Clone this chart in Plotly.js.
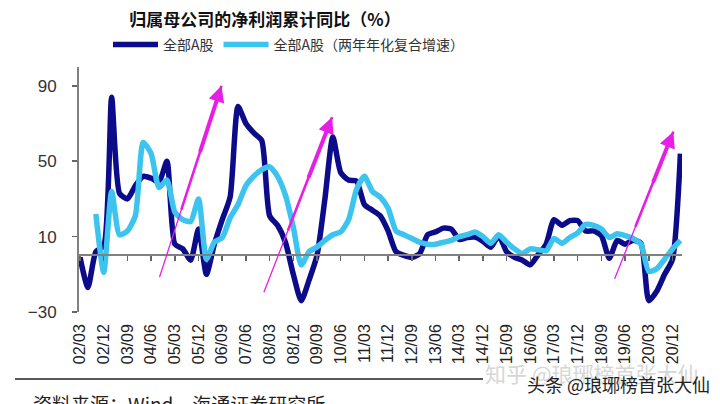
<!DOCTYPE html>
<html>
<head>
<meta charset="utf-8">
<script src="https://cdn.plot.ly/plotly-3.0.1.min.js"></script>
<style>
  html, body { margin: 0; padding: 0; background: #fff; }
  #myPlot { width: 720px; height: 404px; }
</style>
</head>
<body>
<div id="myPlot"></div>
<script>
// quarters, 02/03 .. 21/03
const quarters = [
  "02/03","02/06","02/09","02/12","03/03","03/06","03/09","03/12",
  "04/03","04/06","04/09","04/12","05/03","05/06","05/09","05/12",
  "06/03","06/06","06/09","06/12","07/03","07/06","07/09","07/12",
  "08/03","08/06","08/09","08/12","09/03","09/06","09/09","09/12",
  "10/03","10/06","10/09","10/12","11/03","11/06","11/09","11/12",
  "12/03","12/06","12/09","12/12","13/03","13/06","13/09","13/12",
  "14/03","14/06","14/09","14/12","15/03","15/06","15/09","15/12",
  "16/03","16/06","16/09","16/12","17/03","17/06","17/09","17/12",
  "18/03","18/06","18/09","18/12","19/03","19/06","19/09","19/12",
  "20/03","20/06","20/09","20/12","21/03"
];

// 全部A股 净利润累计同比 (%)
const allA = [
  -1, -17, 2, 5, 84, 33, 30, 37,
  42, 41, 39, 50, 6, 3.5, -2.5, 14,
  -10, 6, 19, 31, 79, 70, 65, 61,
  21, 16, 7, -10, -24, -13, 0, 30,
  63, 44, 40, 39.5, 27, 24, 21, 13,
  2, 0, -1, 1, 11, 12.5, 14.5, 14,
  8.5, 9.5, 9.7, 7.5, 4.4, 10.5, 2, -1,
  -2.5, -5, 0.5, 6, 19, 16, 18.5, 18.5,
  13, 13, 10.5, -1.5, 8, 6, 8, 6.5,
  -24, -19, -10, -2, 54
];

// 全部A股（两年年化复合增速）
const allA2y = [
  null, null, 22, -9, 34, 11, 13, 21,
  60, 54, 36, 40, 23, 19, 18, 30,
  -2, 7, 9.5, 20, 27, 37, 42, 45.5,
  47, 42, 32, 15, -5, 2, 4.5, 8,
  11, 12.5, 19, 35, 42, 34, 31, 25,
  13, 11, 9, 7, 6, 6, 7, 8,
  10, 11, 12.5, 10, 6.5, 11, 7, 3.5,
  1, 3.5, 3, 2.5, 9, 6.5, 9.5, 12,
  16.5, 16, 14, 9.5, 11.5, 10.5, 9, 6,
  -8.5, -7, -2, 3.5, 8
];

const tickLabels = [
  "02/03","02/12","03/09","04/06","05/03","05/12","06/09","07/06",
  "08/03","08/12","09/09","10/06","11/03","11/12","12/09","13/06",
  "14/03","14/12","15/09","16/06","17/03","17/12","18/09","19/06",
  "20/03","20/12"
];
const yTicks = [-30, 10, 50, 90];

const tickIdx = tickLabels.map((q) => quarters.indexOf(q));
const xRange = [-0.13, 76.2];
const yRange = [-30, 100];

const data = [
  {
    x: quarters, y: allA, name: "全部A股",
    type: "scatter", mode: "lines",
    line: { color: "#0c0c8a", width: 5.5, shape: "spline", smoothing: 0.6 },
  },
  {
    x: quarters, y: allA2y, name: "全部A股（两年年化复合增速）",
    type: "scatter", mode: "lines", connectgaps: false,
    line: { color: "#3cc4ef", width: 5.5, shape: "spline", smoothing: 0.6 },
  },
  // carrier for the axis drawn through zero
  { x: [0], y: [null], xaxis: "x2", showlegend: false, hoverinfo: "skip" },
];

// tapered magenta arrows: [tailX, tailY, headX, headY]
const arrows = [
  [10.0, -12.3, 17.9, 90],
  [23.2, -20.3, 31.9, 73.3],
  [67.6, -13.2, 75.1, 65.7],
];
const annotations = [];
arrows.forEach(([tx, ty, hx, hy]) => {
  const seg = (f, w, head) => {
    annotations.push({
      x: hx, y: hy, xref: "x", yref: "y",
      ax: tx + (hx - tx) * f, ay: ty + (hy - ty) * f, axref: "x", ayref: "y",
      text: "", showarrow: true, arrowcolor: "#e61ee6",
      arrowwidth: w, arrowhead: head ? 2 : 0, arrowsize: head ? 0.8 : 1,
    });
  };
  seg(0, 1.3, false);
  seg(0.35, 2.6, false);
  seg(0.65, 4, true);
});

annotations.push(
  {
    text: "资料来源：Wind，海通证券研究所", xref: "paper", yref: "paper",
    x: -0.08, y: -0.31, xanchor: "left", yanchor: "top", showarrow: false,
    font: { family: "Noto Sans CJK SC", size: 19, color: "#222" },
  },
  {
    text: "知乎 @琅琊榜首张大仙", xref: "paper", yref: "paper",
    x: 0.67, y: -0.25, xanchor: "left", yanchor: "middle", showarrow: false,
    font: { family: "Noto Sans CJK SC", size: 21, color: "#d6d6d6" },
  },
  {
    text: "头条 @琅琊榜首张大仙", xref: "paper", yref: "paper",
    x: 0.74, y: -0.295, xanchor: "left", yanchor: "middle", showarrow: false,
    font: { family: "Noto Sans CJK SC", size: 18, color: "#222" },
  }
);

const layout = {
  width: 720, height: 404,
  margin: { l: 79, r: 38, t: 67, b: 92 },
  paper_bgcolor: "#fff", plot_bgcolor: "#fff",
  title: {
    text: "<b>归属母公司的净利润累计同比（%）</b>",
    x: 265 / 720, xanchor: "center", y: 1 - 20 / 404, yanchor: "middle",
    font: { family: "Noto Sans CJK SC", size: 17, color: "#111" },
  },
  showlegend: true,
  legend: {
    orientation: "h", xref: "container", yref: "container",
    x: 108 / 720, y: 1 - 29 / 404, xanchor: "left", yanchor: "top",
    font: { family: "Noto Sans CJK SC", size: 14, color: "#333" },
    itemwidth: 45,
    bgcolor: "rgba(0,0,0,0)",
  },
  xaxis: {
    type: "category", range: xRange,
    tickvals: tickLabels, ticktext: tickLabels,
    tickangle: -90, ticks: "", showline: false, showgrid: false, zeroline: false,
    ticklabelstandoff: 8,
    tickfont: { family: "Liberation Sans", size: 16, color: "#222" },
  },
  xaxis2: {
    type: "linear", overlaying: "x", anchor: "free",
    position: (0 - yRange[0]) / (yRange[1] - yRange[0]),
    range: xRange, tickvals: tickIdx, showticklabels: false,
    ticks: "outside", ticklen: 5, tickwidth: 1.5, tickcolor: "#666",
    showline: true, linecolor: "#808080", linewidth: 2,
    showgrid: false, zeroline: false,
  },
  yaxis: {
    range: yRange, tickvals: yTicks, ticks: "outside", ticklen: 5,
    tickwidth: 1.5, tickcolor: "#666",
    showline: true, linecolor: "#808080", linewidth: 2,
    showgrid: false, zeroline: false, ticklabelstandoff: 12,
    tickfont: { family: "Liberation Sans", size: 17, color: "#333" },
  },
  shapes: [
    {
      type: "line", xref: "paper", yref: "paper",
      x0: (15 - 79) / 603, x1: (483 - 79) / 603, y0: -0.2735, y1: -0.2735,
      line: { color: "#222", width: 1.5 },
    },
  ],
  annotations: annotations,
};

Plotly.newPlot("myPlot", data, layout, { staticPlot: true });
</script>
</body>
</html>
